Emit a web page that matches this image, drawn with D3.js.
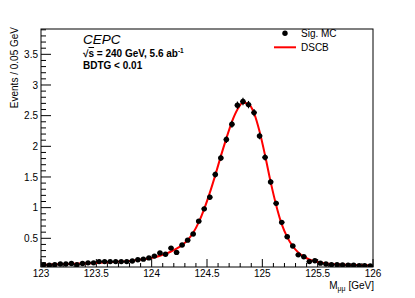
<!DOCTYPE html>
<html><head><meta charset="utf-8">
<script src="https://cdn.jsdelivr.net/npm/d3@7"></script>
<style>body{margin:0;background:#fff}svg{display:block}text{font-family:"Liberation Sans",Arial,sans-serif}</style>
</head><body><svg id="c" width="415" height="298"></svg>
<script>
const xMin = 123, xMax = 126, binWidth = 0.05;
const yMin = 0.032, yMax = 3.913;
const xTicks = [123, 123.5, 124, 124.5, 125, 125.5, 126];
const xTickLabels = ["123", "123.5", "124", "124.5", "125", "125.5", "126"];
const yTicks = [0.5, 1, 1.5, 2, 2.5, 3, 3.5];
const yTickLabels = ["0.5", "1", "1.5", "2", "2.5", "3", "3.5"];
// Sig. MC histogram (60 bins of 0.05 GeV)
const sigMC = [0.07,0.06,0.07,0.08,0.08,0.09,0.07,0.09,0.10,0.10,
               0.12,0.12,0.12,0.12,0.12,0.12,0.13,0.15,0.16,0.18,
               0.21,0.26,0.24,0.34,0.27,0.39,0.47,0.57,0.78,0.98,
               1.17,1.54,1.81,2.11,2.36,2.67,2.73,2.68,2.55,2.17,
               1.82,1.42,1.07,0.76,0.525,0.374,0.23,0.20,0.12,0.135,
               0.095,0.08,0.07,0.07,0.065,0.06,0.06,0.055,0.055,0.05];
const sigErr = [0.008,0.008,0.008,0.009,0.009,0.009,0.008,0.009,0.01,0.01,
                0.011,0.011,0.011,0.011,0.011,0.011,0.012,0.012,0.013,0.014,
                0.015,0.016,0.016,0.019,0.017,0.02,0.022,0.024,0.028,0.032,
                0.035,0.04,0.043,0.046,0.049,0.052,0.053,0.052,0.051,0.047,
                0.043,0.038,0.033,0.028,0.023,0.019,0.015,0.014,0.011,0.012,
                0.01,0.009,0.008,0.008,0.008,0.008,0.008,0.007,0.007,0.007];
// DSCB fit evaluated at bin centres
const dscb = [0.07,0.07,0.075,0.078,0.08,0.083,0.086,0.09,0.093,0.097,
              0.10,0.105,0.11,0.115,0.12,0.127,0.135,0.145,0.157,0.172,
              0.19,0.215,0.245,0.285,0.33,0.39,0.47,0.59,0.76,0.98,
              1.24,1.53,1.84,2.13,2.40,2.60,2.71,2.69,2.54,2.24,
              1.85,1.42,1.04,0.73,0.52,0.37,0.27,0.20,0.155,0.125,
              0.105,0.09,0.08,0.075,0.07,0.067,0.064,0.062,0.06,0.058];

const svg = d3.select("#c");
const L = 41, R = 373, T = 29, B = 267;
const x = d3.scaleLinear().domain([xMin, xMax]).range([L, R]);
const y = d3.scaleLinear().domain([yMin, yMax]).range([B, T]);
const centers = sigMC.map((_, i) => xMin + (i + 0.5) * binWidth);

svg.append("clipPath").attr("id", "clip").append("rect")
  .attr("x", L).attr("y", T).attr("width", R - L).attr("height", B - T);

// axes ticks
const g = svg.append("g").attr("stroke", "#000").attr("stroke-width", 1);
const xMinor = d3.range(0, 31).map(i => xMin + i * 0.1);
xMinor.forEach(v => {
  const major = Math.abs(v * 2 - Math.round(v * 2)) < 1e-6;
  g.append("line").attr("x1", x(v)).attr("x2", x(v)).attr("y1", B).attr("y2", B - (major ? 8 : 4));
});
const yMinor = d3.range(1, 40).map(i => i * 0.1).filter(v => v > yMin && v < yMax);
yMinor.forEach(v => {
  const major = Math.abs(v * 2 - Math.round(v * 2)) < 1e-6;
  g.append("line").attr("y1", y(v)).attr("y2", y(v)).attr("x1", L).attr("x2", L + (major ? 10 : 5));
});
svg.append("rect").attr("x", L).attr("y", T).attr("width", R - L).attr("height", B - T)
  .attr("fill", "none").attr("stroke", "#000").attr("stroke-width", 1);

svg.selectAll(".xl").data(xTicks).enter().append("text")
  .attr("x", d => x(d)).attr("y", 277).attr("text-anchor", "middle")
  .attr("font-size", 10).text((d, i) => xTickLabels[i]);
svg.selectAll(".yl").data(yTicks).enter().append("text")
  .attr("x", 38).attr("y", d => y(d) + 3.6).attr("text-anchor", "end")
  .attr("font-size", 10).text((d, i) => yTickLabels[i]);

svg.append("text").attr("transform", "translate(17.5,27) rotate(-90)")
  .attr("text-anchor", "end").attr("font-size", 10).text("Events / 0.05 GeV");
const xt = svg.append("text").attr("x", 374).attr("y", 289).attr("text-anchor", "end").attr("font-size", 10);
xt.append("tspan").text("M");
xt.append("tspan").attr("font-size", 7).attr("dy", 2).text("μμ");
xt.append("tspan").attr("dy", -2).text(" [GeV]");

// fit curve
const line = d3.line().x((d, i) => x(centers[i])).y(d => y(d)).curve(d3.curveMonotoneX);
svg.append("path").attr("d", line(dscb)).attr("clip-path", "url(#clip)")
  .attr("fill", "none").attr("stroke", "#ff0000").attr("stroke-width", 2);

// data points
const pts = svg.append("g").attr("clip-path", "url(#clip)");
sigMC.forEach((v, i) => {
  const cx = x(centers[i]), cy = y(v);
  pts.append("line").attr("x1", x(centers[i] - binWidth / 2)).attr("x2", x(centers[i] + binWidth / 2))
    .attr("y1", cy).attr("y2", cy).attr("stroke", "#000").attr("stroke-width", 1.2);
  pts.append("line").attr("x1", cx).attr("x2", cx).attr("y1", y(v - sigErr[i]) + 0.5).attr("y2", y(v + sigErr[i]) - 0.5)
    .attr("stroke", "#000").attr("stroke-width", 1.2);
  pts.append("circle").attr("cx", cx).attr("cy", cy).attr("r", 2.7).attr("fill", "#000");
});

// labels
svg.append("text").attr("x", 83).attr("y", 43.5).attr("font-size", 13.5).attr("font-style", "italic").text("CEPC");
const t2 = svg.append("text").attr("x", 83).attr("y", 57).attr("font-size", 10).attr("font-weight", "bold");
t2.append("tspan").text("√");
t2.append("tspan").attr("text-decoration", "overline").text("s");
t2.append("tspan").text(" = 240 GeV, 5.6 ab");
t2.append("tspan").attr("font-size", 6.5).attr("dy", -4).text("-1");
svg.append("text").attr("x", 83).attr("y", 68.5).attr("font-size", 10).attr("font-weight", "bold").text("BDTG < 0.01");

// legend
svg.append("circle").attr("cx", 285).attr("cy", 33.3).attr("r", 2.7).attr("fill", "#000");
svg.append("text").attr("x", 301).attr("y", 37).attr("font-size", 10).text("Sig. MC");
svg.append("line").attr("x1", 274).attr("x2", 296).attr("y1", 47.3).attr("y2", 47.3)
  .attr("stroke", "#ff0000").attr("stroke-width", 2);
svg.append("text").attr("x", 301).attr("y", 51).attr("font-size", 10).text("DSCB");
</script></body></html>
